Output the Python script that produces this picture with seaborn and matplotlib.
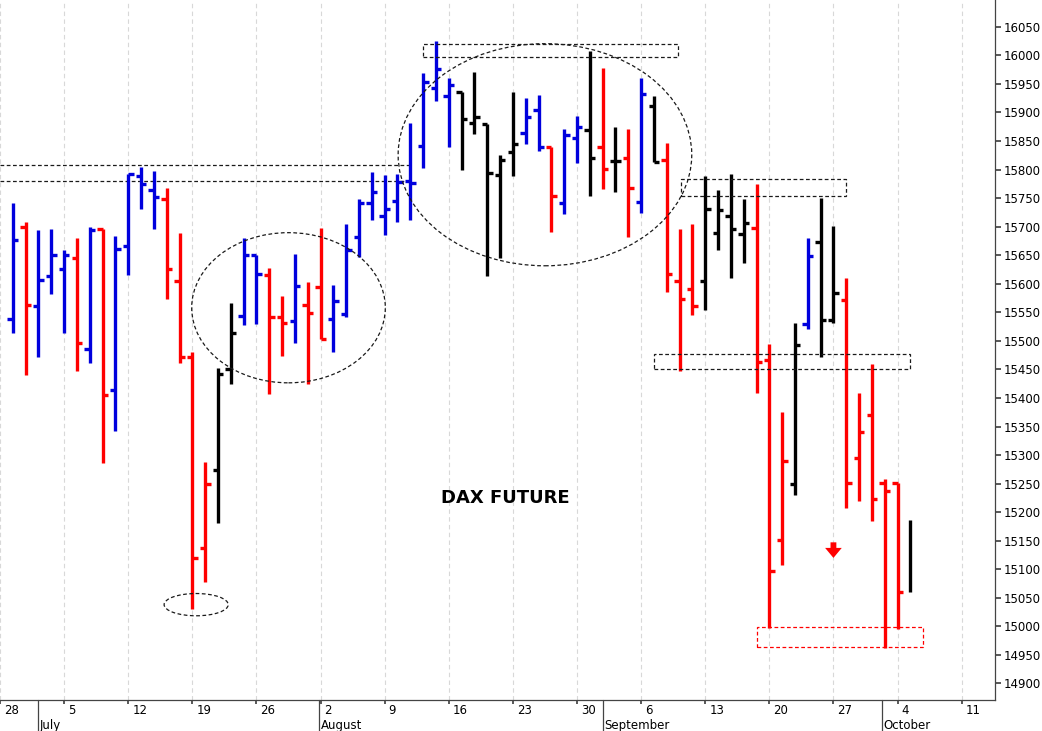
import numpy as np
import matplotlib.pyplot as plt
import seaborn as sns
from matplotlib.patches import Rectangle, Ellipse
import matplotlib.transforms as mtrans

# daily OHLC of the DAX future, 29 Jun .. 5 Oct (trading days only)
opens = [15539, 15700, 15561, 15614, 15626, 15645, 15486, 15696, 15414, 15666,
         15789, 15765, 15749, 15605, 15472, 15137, 15274, 15451, 15544, 15651,
         15616, 15542, 15535, 15563, 15595, 15539, 15547, 15682, 15742, 15719,
         15745, 15780, 15842, 15943, 15929, 15936, 15882, 15880, 15791, 15831,
         15864, 15905, 15840, 15742, 15856, 15870, 15840, 15815, 15821, 15743,
         15912, 15817, 15605, 15591, 15605, 15689, 15719, 15687, 15698, 15467,
         15151, 15250, 15530, 15673, 15537, 15572, 15295, 15370, 15251, 15251, np.nan]
highs = [15742, 15708, 15694, 15696, 15659, 15680, 15700, 15696, 15684, 15793,
         15805, 15798, 15768, 15689, 15481, 15288, 15453, 15567, 15680, 15651,
         15628, 15579, 15652, 15603, 15698, 15598, 15705, 15749, 15796, 15791,
         15793, 15882, 15969, 16025, 15961, 15936, 15971, 15880, 15826, 15936,
         15926, 15931, 15840, 15871, 15894, 16008, 15978, 15875, 15871, 15961,
         15929, 15847, 15696, 15705, 15789, 15765, 15793, 15749, 15775, 15495,
         15376, 15532, 15680, 15750, 15701, 15610, 15409, 15460, 15258, 15251, 15186]
lows = [15514, 15440, 15472, 15582, 15514, 15447, 15461, 15286, 15342, 15616,
        15731, 15696, 15574, 15461, 15031, 15078, 15181, 15425, 15528, 15530,
        15407, 15474, 15497, 15425, 15504, 15481, 15542, 15647, 15712, 15686,
        15708, 15712, 15803, 15920, 15840, 15800, 15863, 15614, 15645, 15789,
        15845, 15833, 15691, 15722, 15812, 15754, 15766, 15761, 15682, 15724,
        15814, 15586, 15447, 15546, 15554, 15659, 15610, 15637, 15409, 14997,
        15108, 15230, 15521, 15472, 15532, 15207, 15220, 15185, 14962, 14996, 15060]
closes = [15677, 15563, 15607, 15651, 15651, 15497, 15694, 15405, 15661, 15793,
          15775, 15752, 15626, 15472, 15120, 15250, 15442, 15514, 15651, 15617,
          15542, 15532, 15596, 15549, 15504, 15570, 15659, 15742, 15761, 15731,
          15778, 15777, 15954, 15976, 15948, 15889, 15892, 15794, 15817, 15845,
          15892, 15840, 15754, 15861, 15875, 15821, 15801, 15815, 15768, 15933,
          15814, 15617, 15574, 15561, 15731, 15729, 15696, 15707, 15463, 15097,
          15290, 15493, 15649, 15537, 15584, 15251, 15340, 15223, 15237, 15060, np.nan]
colors = list("BRBBBRBRBBBBRRRRKKBBRRBRRBBBBBBBBBBKKKKKBBRBBKRKRBKRRRKKKKRRRKBKKRRRRRK")

week_ticks = [-1, 4, 9, 14, 19, 24, 29, 34, 39, 44, 49, 54, 59, 64, 69, 74]
week_labels = ["28", "5", "12", "19", "26", "2", "9", "16", "23", "30",
               "6", "13", "20", "27", "4", "11"]
month_pos = [2, 23.9, 46, 67.8]
month_names = ["July", "August", "September", "October"]

cmap = {"B": "#0000dd", "R": "#ff0000", "K": "#000000"}

sns.set_theme(style="white")
plt.rcParams['font.family'] = ['DejaVu Sans']

fig = plt.figure(figsize=(10.42, 7.31), dpi=100)
ax = fig.add_axes([0, 31 / 731, 995 / 1042, 700 / 731])

x = np.arange(len(highs))
cols = [cmap[c] for c in colors]
lw = 2.4
ax.vlines(x, lows, highs, colors=cols, lw=lw, zorder=3)
for xi, o, c, col in zip(x, opens, closes, cols):
    if not np.isnan(o):
        ax.hlines(o, xi - 0.42, xi, colors=col, lw=lw, zorder=3)
    if not np.isnan(c):
        ax.hlines(c, xi, xi + 0.42, colors=col, lw=lw, zorder=3)

# weekly grid
for t in week_ticks:
    ax.axvline(t, color="#d8d8d8", lw=0.8, ls=(0, (4, 3)), zorder=0)

# annotations
dash = dict(fill=False, ls=(0, (3, 2)), lw=0.9, zorder=4)
ax.hlines([15808, 15780], -1, 31, colors="k", lw=0.9, linestyles=(0, (3, 2)))
ax.add_patch(Rectangle((32, 15997), 19.9, 23, ec="k", **dash))
ax.add_patch(Rectangle((52.1, 15754), 12.9, 30, ec="k", **dash))
ax.add_patch(Rectangle((50, 15451), 20, 26, ec="k", **dash))
ax.add_patch(Rectangle((58, 14964), 13, 35, ec="#ff0000", **dash))
ax.add_patch(Ellipse((14.3, 15038), 5, 39, ec="k", **dash))
ax.add_patch(Ellipse((21.5, 15558), 15.1, 263, ec="k", **dash))
ax.add_patch(Ellipse((41.5, 15826), 22.9, 389, ec="k", **dash))
ax.annotate("", xy=(64.0, 15115), xytext=(64.0, 15152),
            arrowprops=dict(arrowstyle="simple,head_width=1.0,head_length=0.6,tail_width=0.35",
                            color="#ff0000", lw=0))
ax.text(38.4, 15225, "DAX FUTURE", ha="center", va="center",
        fontsize=13, fontweight="bold", color="black")

ax.set_xlim(-0.47, 76.6)
ax.set_ylim(14871, 16097)
ax.yaxis.tick_right()
ax.set_yticks(np.arange(14900, 16051, 50))
ax.tick_params(axis="y", labelsize=8.5, length=4, direction="out", right=True, pad=2,
               labelcolor="black", color="#444444")
ax.set_xticks(week_ticks)
ax.set_xticklabels(week_labels, ha="left", fontsize=8.5)
ax.tick_params(axis="x", length=3, direction="out", bottom=True, pad=0,
               labelcolor="black", color="#444444")
offset = mtrans.ScaledTranslation(4 / 100, 0, fig.dpi_scale_trans)
for lab in ax.get_xticklabels():
    lab.set_transform(lab.get_transform() + offset)
for s in ax.spines.values():
    s.set_color("#444444")
    s.set_linewidth(0.9)
ax.spines["top"].set_visible(False)
ax.spines["left"].set_visible(False)

tr = mtrans.blended_transform_factory(ax.transData, ax.transAxes)
for p, name in zip(month_pos, month_names):
    ax.plot([p, p], [0, -31 / 700], color="#444444", lw=0.9, transform=tr, clip_on=False)
    ax.text(p + 0.1, -0.037, name, transform=tr, fontsize=8.5, ha="left", va="center",
            color="black")

fig.savefig("out.png", dpi=100)
